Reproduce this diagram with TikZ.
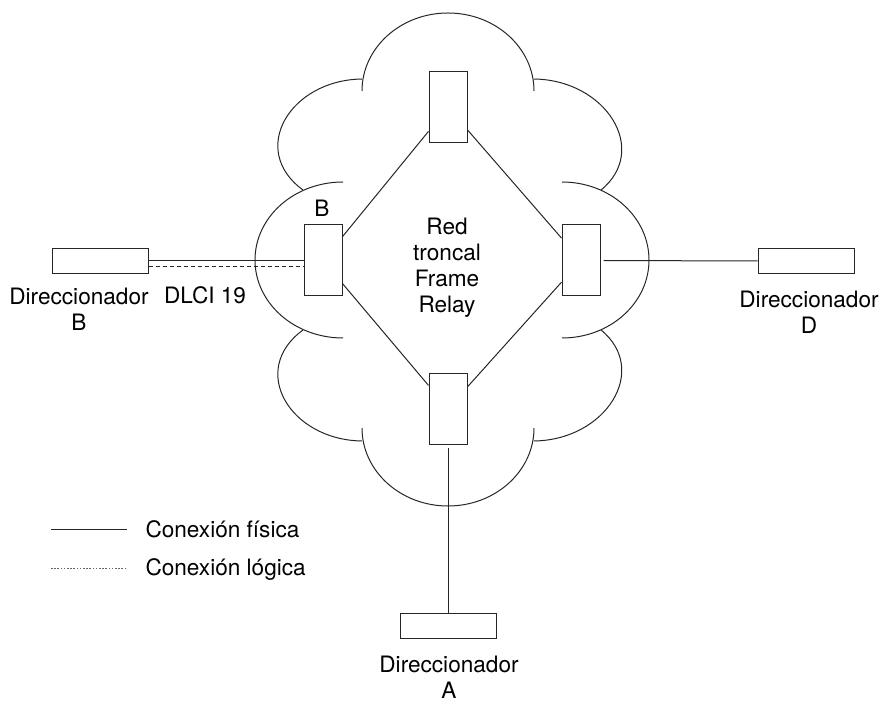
\documentclass[tikz,border=0pt]{standalone}
\usepackage{fontspec}
\setmainfont{TeX Gyre Heros}
\tikzset{
    switch/.style={draw, minimum width=19pt, minimum height=35.5pt, inner sep=0pt},
    router/.style={draw, minimum width=48pt, minimum height=12.5pt, inner sep=0pt},
    txt/.style={align=center, inner sep=0pt, font=\fontsize{11.3}{13}\selectfont},
    logical/.style={dash pattern=on 2pt off 1.5pt},
    legenddots/.style={black!60, dash pattern=on 0.8pt off 0.8pt}
}

\begin{document}
\begin{tikzpicture}[x=0.5pt, y=0.5pt, line width=0.5pt, draw=black!85]
    \useasboundingbox (0,0) rectangle (882,702);
    % Cloud (lobes)
    \draw (362,611) arc[start angle=180, end angle=0, x radius=86, y radius=78];
    \draw (362,274) arc[start angle=180, end angle=360, x radius=86, y radius=78];
    \draw (343,520) arc[start angle=90, end angle=270, x radius=88, y radius=78];
    \draw (562,520) arc[start angle=90, end angle=-90, x radius=87, y radius=78];
    \draw (362,623) .. controls (290,622) and (248,552) .. (303,512);
    \draw (534,623) .. controls (606,622) and (650,552) .. (601,512);
    \draw (303,372) .. controls (248,332) and (290,262) .. (362,261);
    \draw (601,372) .. controls (650,332) and (606,262) .. (534,261);
    % Switches of the backbone
    \node[switch] (sT) at (448,594.5) {};
    \node[switch] (sB) at (323,441.5) {};
    \node[switch] (sD) at (581,441.5) {};
    \node[switch] (sA) at (448,293.5) {};
    \draw (sT) -- (sB);
    \draw (sT) -- (sD);
    \draw (sB) -- (sA);
    \draw (sD) -- (sA);
    \node[txt, anchor=base] (lblB) at (322,485) {B};
    \node[txt, anchor=north] (net) at (447,484) {Red\\troncal\\Frame\\Relay};
    % Routers
    \node[router] (rB) at (100,441) {};
    \node[router] (rD) at (806,441) {};
    \node[router] (rA) at (448,76.5) {};
    \draw (rB.east) -- (rB.east -| sB.west);
    \draw[logical] ([yshift=-3pt]rB.east) -- ([yshift=-3pt]rB.east -| sB.west);
    \draw ([xshift=1.5pt]sD.east) -- (rD.west);
    \draw ([yshift=-1.5pt]sA.south) -- (rA.north);
    \node[txt, anchor=north] (nameB) at (79,414.5) {Direccionador\\B};
    \node[txt, anchor=base] (dlci) at (205,398) {DLCI 19};
    \node[txt, anchor=north] (nameD) at (809,411.5) {Direccionador\\D};
    \node[txt, anchor=north] (nameA) at (449,46.5) {Direccionador\\A};
    % Legend
    \coordinate (phys1) at (51,173);
    \coordinate (phys2) at (127,173);
    \coordinate (log1) at (51,134);
    \coordinate (log2) at (127,134);
    \draw (phys1) -- (phys2);
    \draw[legenddots] (log1) -- (log2);
    \node[txt, anchor=base west] (legphys) at (145,165) {Conexión física};
    \node[txt, anchor=base west] (leglog) at (145,127) {Conexión lógica};
\end{tikzpicture}
\end{document}
